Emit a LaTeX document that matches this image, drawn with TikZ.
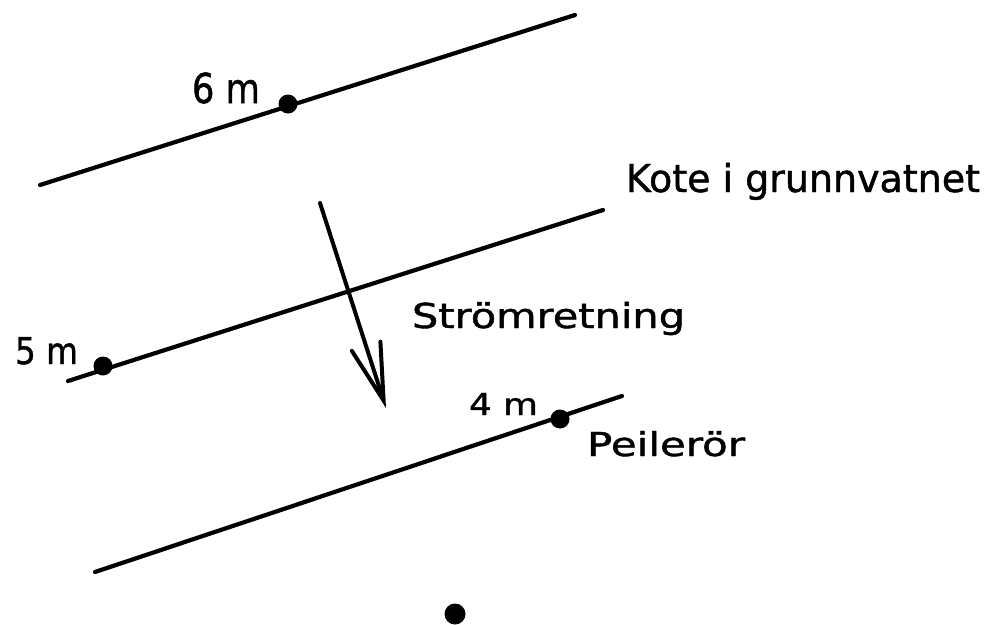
\documentclass[tikz,border=0pt]{standalone}
\usepackage{fontspec}
\setmainfont{DejaVu Sans}[FakeBold=1.2]
\usetikzlibrary{arrows.meta}
\newcommand{\fitlbl}[3]{\resizebox{#1pt}{#2pt}{\smash{#3}\rule{0pt}{0.729em}}}
\begin{document}
\begin{tikzpicture}[x=1pt,y=-1pt,
  contour/.style={line width=4.2pt, line cap=round},
  dotmark/.style={circle, fill=black, draw=none, inner sep=0pt, minimum size=19pt},
  lbl/.style={anchor=base west, inner sep=0pt, outer sep=0pt},
  flowarrow/.style={line width=4pt, line cap=round, line join=round,
    -{Straight Barb[length=57pt,width=30pt,line cap=round]}}]
\useasboundingbox[fill=white] (0,0) rectangle (988,624);
% contour lines
\coordinate (l6a) at (40,185);  \coordinate (l6b) at (575,15);
\coordinate (l5a) at (68,381);  \coordinate (l5b) at (603,210);
\coordinate (l4a) at (95,572);  \coordinate (l4b) at (622,396);
\draw[contour] (l6a) -- (l6b);
\draw[contour] (l5a) -- (l5b);
\draw[contour] (l4a) -- (l4b);
% wells
\node[dotmark] (d6) at (288,104) {};
\node[dotmark] (d5) at (103,366) {};
\node[dotmark] (d4) at (560,419) {};
\node[dotmark, minimum size=21pt] (dx) at (455,614) {};
% flow arrow
\coordinate (as) at (320,203);
\coordinate (ae) at (386,408);
\draw[flowarrow] (as) -- (ae);
% labels
\node[lbl] (t6) at (192,103) {\fitlbl{68}{30}{6 m}};
\node[lbl] (t5) at (15,364) {\fitlbl{63}{27}{5 m}};
\node[lbl] (t4) at (469,415) {\fitlbl{69}{22}{4 m}};
\node[lbl] (tp) at (587,456) {\fitlbl{158}{24}{Peilerör}};
\node[lbl] (tk) at (626,192) {\fitlbl{354}{28}{Kote i grunnvatnet}};
\node[lbl] (ts) at (412,328) {\fitlbl{273}{25}{Strömretning}};
\end{tikzpicture}
\end{document}
